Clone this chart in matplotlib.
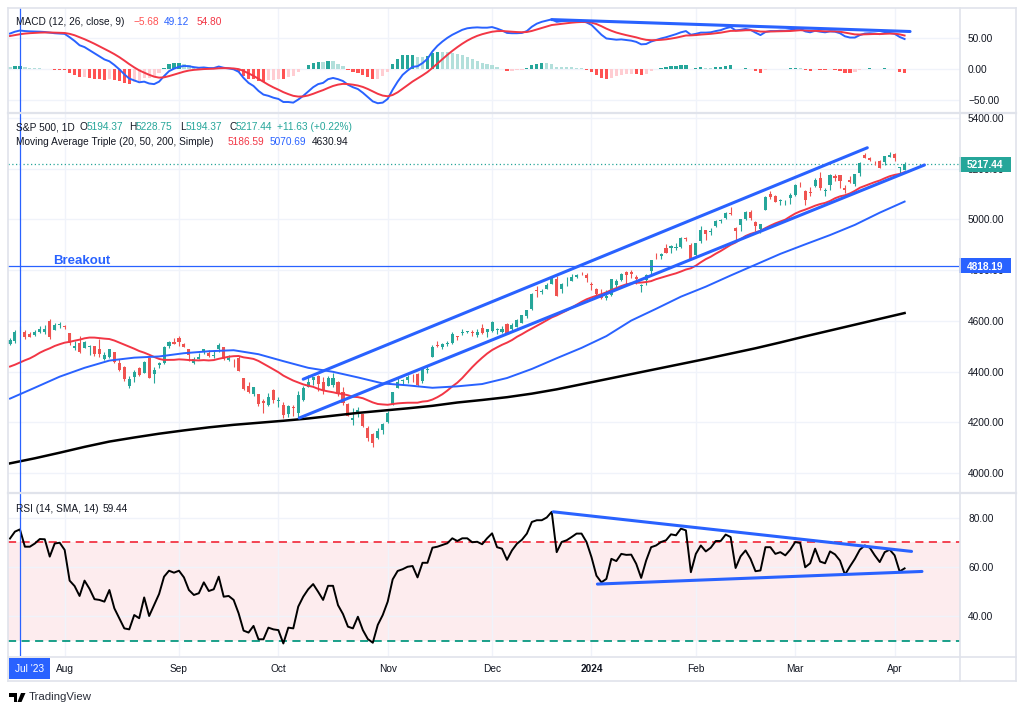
import numpy as np
import pandas as pd
import matplotlib
matplotlib.use("Agg")
import matplotlib.pyplot as plt
from matplotlib.patches import Rectangle, Polygon
from matplotlib.lines import Line2D
from matplotlib.transforms import blended_transform_factory

plt.rcParams['font.family'] = ['Liberation Sans', 'DejaVu Sans']

#-----------------------------------------------------------------------------------------------------------------------
# S&P 500 daily, 17 Jul 2023 - 3 Apr 2024
#-----------------------------------------------------------------------------------------------------------------------
holidays = ['2023-09-04', '2023-11-23', '2023-12-25', '2024-01-01', '2024-01-15', '2024-02-19', '2024-03-29']
dates = pd.bdate_range('2023-07-17', '2024-04-03', freq='C', holidays=holidays)

opens = [
    4508.9, 4521.8, 4563.9, 4554.4, 4550.2, 4543.4, 4555.2, 4558.0, 4598.3, 4565.8,
    4584.8, 4578.8, 4550.9, 4494.3, 4513.9, 4491.6, 4498.0, 4501.6, 4487.2, 4450.7,
    4458.1, 4478.9, 4433.8, 4416.3, 4344.9, 4380.3, 4415.3, 4396.4, 4455.2, 4389.4,
    4426.0, 4432.8, 4500.3, 4517.0, 4530.6, 4510.1, 4490.4, 4434.6, 4451.3, 4481.0,
    4473.3, 4462.7, 4487.8, 4498.0, 4445.1, 4445.4, 4452.8, 4374.4, 4341.7, 4310.6,
    4312.9, 4282.6, 4269.7, 4328.2, 4284.5, 4269.8, 4233.8, 4259.3, 4234.8, 4289.0,
    4339.8, 4366.6, 4380.9, 4360.5, 4342.4, 4345.2, 4357.4, 4321.4, 4273.9, 4210.4,
    4235.8, 4232.4, 4176.0, 4152.9, 4139.4, 4171.3, 4201.3, 4268.3, 4334.2, 4364.3,
    4366.2, 4384.4, 4391.4, 4364.2, 4406.7, 4459.0, 4505.3, 4497.1, 4509.6, 4511.7,
    4538.8, 4553.0, 4555.8, 4554.9, 4545.6, 4571.8, 4554.9, 4559.4, 4564.4, 4557.3,
    4586.2, 4568.8, 4576.2, 4593.4, 4618.3, 4646.2, 4721.0, 4714.2, 4725.6, 4743.7,
    4764.7, 4724.3, 4753.9, 4758.9, 4773.5, 4786.4, 4782.9, 4745.2, 4725.1, 4697.4,
    4690.6, 4703.7, 4741.9, 4759.9, 4792.1, 4791.2, 4772.4, 4739.1, 4760.1, 4796.3,
    4853.4, 4856.8, 4888.6, 4886.7, 4888.9, 4893.0, 4925.9, 4899.2, 4861.1, 4916.1,
    4957.2, 4950.2, 4973.1, 4995.2, 5004.2, 5026.8, 4967.9, 4976.4, 5003.1, 5031.1,
    4989.3, 4963.0, 5038.8, 5100.9, 5093.0, 5074.6, 5067.2, 5085.4, 5098.5, 5130.99,
    5110.5, 5108.0, 5132.4, 5164.5, 5112.0, 5134.3, 5173.5, 5175.1, 5123.3, 5154.8,
    5139.1, 5181.7, 5253.4, 5242.5, 5219.5, 5228.9, 5226.3, 5248.0, 5258.0, 5204.3,
    5194.37]
highs = [
    4532.9, 4562.3, 4578.4, 4564.7, 4555.0, 4563.4, 4580.6, 4582.5, 4607.1, 4590.2,
    4594.2, 4584.6, 4550.9, 4519.5, 4540.3, 4519.8, 4503.3, 4502.4, 4527.4, 4476.2,
    4490.3, 4478.9, 4449.9, 4421.2, 4381.8, 4407.6, 4418.6, 4443.2, 4458.3, 4418.5,
    4439.6, 4500.1, 4521.7, 4532.3, 4541.3, 4514.3, 4490.4, 4457.8, 4473.5, 4490.8,
    4487.1, 4479.4, 4512.0, 4498.0, 4466.4, 4449.9, 4461.0, 4375.7, 4357.4, 4338.5,
    4313.0, 4292.1, 4317.3, 4333.2, 4300.6, 4281.2, 4268.5, 4267.1, 4324.1, 4341.7,
    4385.5, 4378.6, 4385.9, 4377.1, 4383.3, 4393.6, 4364.2, 4339.5, 4276.6, 4255.8,
    4259.4, 4232.4, 4183.6, 4156.7, 4177.5, 4195.6, 4245.6, 4319.7, 4373.6, 4372.2,
    4386.3, 4391.2, 4393.4, 4418.0, 4421.8, 4503.1, 4521.2, 4512.0, 4520.1, 4557.1,
    4542.1, 4568.4, 4560.3, 4562.1, 4568.1, 4587.6, 4569.9, 4599.4, 4572.4, 4578.6,
    4590.7, 4590.9, 4609.2, 4623.7, 4643.9, 4709.7, 4738.6, 4725.5, 4749.5, 4768.7,
    4778.0, 4748.7, 4772.9, 4784.7, 4785.4, 4793.3, 4788.4, 4754.3, 4729.3, 4726.8,
    4721.5, 4764.5, 4765.5, 4790.8, 4798.5, 4802.4, 4782.3, 4744.2, 4785.8, 4842.1,
    4868.4, 4866.5, 4903.7, 4898.2, 4906.7, 4929.3, 4931.1, 4906.8, 4907.0, 4975.3,
    4957.8, 4964.5, 4999.9, 5000.4, 5030.1, 5048.4, 4971.3, 5002.5, 5032.7, 5038.7,
    4993.6, 4983.2, 5094.4, 5111.1, 5097.7, 5080.7, 5077.4, 5105.0, 5140.3, 5149.7,
    5114.5, 5128.0, 5165.6, 5189.3, 5124.7, 5179.9, 5179.1, 5176.9, 5136.9, 5170.3,
    5180.3, 5226.2, 5261.1, 5246.1, 5229.1, 5235.2, 5249.3, 5264.9, 5263.9, 5208.3,
    5228.75]
lows = [
    4504.9, 4514.6, 4557.5, 4527.6, 4535.8, 4541.3, 4552.4, 4547.6, 4528.6, 4564.0,
    4573.1, 4567.5, 4505.8, 4485.5, 4474.6, 4491.2, 4464.4, 4461.3, 4457.9, 4444.0,
    4453.4, 4432.2, 4403.6, 4364.8, 4335.3, 4360.3, 4382.8, 4396.4, 4375.6, 4356.3,
    4415.0, 4431.7, 4493.6, 4507.4, 4501.4, 4496.0, 4442.4, 4430.5, 4448.4, 4467.9,
    4456.8, 4453.4, 4478.7, 4447.2, 4442.1, 4416.6, 4402.2, 4329.2, 4316.5, 4302.7,
    4266.0, 4238.6, 4264.4, 4274.9, 4260.2, 4216.5, 4220.5, 4225.9, 4219.6, 4283.8,
    4339.6, 4345.3, 4325.4, 4312.0, 4342.4, 4337.5, 4303.8, 4269.7, 4223.0, 4189.2,
    4219.4, 4181.4, 4127.9, 4103.8, 4132.9, 4153.1, 4197.7, 4268.3, 4334.2, 4347.5,
    4355.4, 4359.8, 4343.9, 4353.3, 4393.8, 4459.0, 4495.3, 4487.8, 4499.7, 4510.4,
    4525.5, 4545.1, 4552.8, 4540.5, 4537.9, 4547.2, 4537.2, 4554.7, 4546.7, 4551.7,
    4546.5, 4565.2, 4574.1, 4593.4, 4609.7, 4643.2, 4694.6, 4704.7, 4725.6, 4743.7,
    4697.8, 4708.4, 4736.8, 4758.5, 4768.9, 4781.0, 4752.0, 4722.7, 4699.7, 4687.5,
    4682.1, 4699.8, 4730.4, 4756.2, 4739.6, 4769.0, 4747.1, 4714.8, 4740.6, 4785.9,
    4844.1, 4844.4, 4865.9, 4869.3, 4881.5, 4887.4, 4916.3, 4845.2, 4853.5, 4908.0,
    4918.1, 4939.5, 4970.0, 4987.1, 5000.3, 5016.3, 4920.3, 4956.4, 4999.4, 4999.5,
    4955.0, 4946.0, 5038.8, 5081.5, 5068.9, 5057.3, 5058.4, 5061.9, 5094.2, 5127.2,
    5056.8, 5092.2, 5128.2, 5117.5, 5091.1, 5114.5, 5151.9, 5123.3, 5104.4, 5145.5,
    5131.6, 5171.6, 5240.7, 5229.9, 5216.1, 5203.4, 5213.9, 5245.8, 5229.2, 5184.1,
    5194.37]
closes = [
    4522.8, 4555.0, 4565.7, 4534.9, 4536.3, 4554.6, 4567.5, 4566.8, 4537.4, 4582.2,
    4589.0, 4576.7, 4513.4, 4501.9, 4478.0, 4518.4, 4499.4, 4467.7, 4468.8, 4464.1,
    4489.7, 4437.9, 4404.3, 4370.4, 4369.7, 4399.8, 4387.6, 4436.0, 4376.3, 4405.7,
    4433.3, 4497.6, 4514.9, 4507.7, 4515.8, 4496.8, 4465.5, 4451.1, 4457.5, 4487.5,
    4461.9, 4467.4, 4505.1, 4450.3, 4453.5, 4444.0, 4402.2, 4330.0, 4320.1, 4337.4,
    4273.5, 4274.5, 4299.7, 4288.1, 4288.4, 4229.5, 4263.8, 4258.2, 4308.5, 4335.7,
    4358.2, 4376.9, 4349.6, 4327.8, 4373.6, 4373.2, 4314.6, 4278.0, 4224.2, 4217.0,
    4247.7, 4186.8, 4137.2, 4117.4, 4166.8, 4193.8, 4237.9, 4317.8, 4358.3, 4366.0,
    4378.4, 4382.8, 4347.4, 4415.2, 4411.6, 4495.7, 4502.9, 4508.2, 4514.0, 4547.4,
    4538.2, 4556.6, 4559.3, 4550.4, 4554.9, 4550.6, 4567.8, 4594.6, 4569.8, 4567.2,
    4549.3, 4585.6, 4604.4, 4622.4, 4643.7, 4707.1, 4719.6, 4719.2, 4740.6, 4768.4,
    4698.4, 4746.8, 4754.6, 4774.8, 4781.6, 4783.4, 4769.8, 4742.8, 4704.8, 4688.7,
    4697.2, 4763.5, 4756.5, 4783.5, 4780.2, 4783.8, 4766.0, 4739.2, 4780.9, 4839.8,
    4850.4, 4864.6, 4868.6, 4894.2, 4891.0, 4927.9, 4925.0, 4845.7, 4906.2, 4958.6,
    4942.8, 4954.2, 4995.1, 4997.9, 5026.6, 5021.8, 4953.2, 5000.6, 5029.7, 5005.6,
    4975.5, 4981.8, 5087.0, 5088.8, 5069.5, 5078.2, 5069.8, 5096.3, 5137.1, 5130.95,
    5078.7, 5104.8, 5157.4, 5123.7, 5117.9, 5175.3, 5165.3, 5150.5, 5117.1, 5149.4,
    5178.5, 5224.6, 5241.5, 5234.2, 5218.2, 5203.6, 5248.5, 5254.4, 5243.8, 5205.81,
    5217.44]

# Moving Average Triple (20, 50, 200, Simple)
sma20 = [
    4419.9, 4427.2, 4436.0, 4444.5, 4452.2, 4462.5, 4474.4, 4483.8, 4491.8, 4501.1,
    4508.0, 4514.1, 4517.4, 4521.9, 4525.9, 4531.3, 4534.3, 4534.1, 4532.0, 4530.0,
    4528.4, 4522.5, 4514.4, 4506.2, 4497.9, 4490.2, 4481.2, 4474.7, 4466.6, 4457.8,
    4450.0, 4446.0, 4446.1, 4446.4, 4448.3, 4447.2, 4445.5, 4444.7, 4444.1, 4445.3,
    4443.9, 4445.4, 4450.4, 4454.4, 4458.6, 4460.8, 4461.5, 4456.2, 4453.4, 4450.0,
    4442.0, 4430.8, 4420.0, 4409.0, 4397.6, 4384.2, 4374.1, 4364.5, 4357.1, 4349.5,
    4344.3, 4339.8, 4332.0, 4325.9, 4321.9, 4318.4, 4314.0, 4311.4, 4306.6, 4300.6,
    4299.3, 4294.9, 4286.8, 4278.3, 4272.2, 4270.4, 4269.1, 4272.1, 4274.6, 4276.1,
    4277.1, 4277.4, 4277.3, 4281.7, 4283.6, 4289.7, 4299.1, 4310.6, 4325.1, 4341.6,
    4356.1, 4374.6, 4395.7, 4417.4, 4436.8, 4454.6, 4471.1, 4485.0, 4495.6, 4505.7,
    4514.2, 4524.3, 4537.2, 4547.6, 4559.2, 4569.8, 4580.6, 4591.2, 4602.5, 4613.6,
    4621.6, 4631.1, 4640.9, 4652.1, 4663.4, 4675.0, 4685.1, 4692.5, 4699.3, 4705.4,
    4712.8, 4721.7, 4729.3, 4737.4, 4744.2, 4748.0, 4750.3, 4751.3, 4753.3, 4756.9,
    4764.5, 4770.4, 4776.1, 4782.1, 4787.6, 4794.8, 4802.6, 4807.7, 4817.8, 4831.3,
    4843.6, 4853.1, 4865.0, 4875.7, 4888.0, 4899.9, 4909.3, 4922.4, 4934.8, 4943.1,
    4949.4, 4955.3, 4966.2, 4975.9, 4984.8, 4992.3, 4999.5, 5012.0, 5023.5, 5032.1,
    5038.9, 5046.4, 5054.5, 5060.8, 5065.4, 5073.1, 5083.7, 5091.2, 5095.6, 5102.8,
    5113.0, 5125.1, 5132.8, 5140.1, 5147.5, 5153.8, 5162.7, 5170.6, 5175.9, 5179.6,
    5186.59]
ma_bars = list(range(0, 181, 5))
sma50 = [
    4293.4, 4336.4, 4380.0, 4414.9, 4443.5, 4455.0, 4459.7, 4472.5, 4480.3, 4484.3,
    4468.6, 4441.2, 4414.9, 4399.1, 4377.0, 4353.3, 4345.7, 4336.1, 4341.8, 4350.9,
    4374.6, 4410.4, 4452.7, 4493.5, 4540.0, 4601.3, 4647.7, 4695.6, 4735.0, 4779.1,
    4821.7, 4864.4, 4901.9, 4938.6, 4978.8, 5026.9, 5070.69]
sma200 = [
    4038, 4058, 4080, 4103, 4124, 4140, 4155, 4168, 4180, 4190,
    4198, 4206, 4215, 4226, 4237, 4246, 4255, 4265, 4278, 4288,
    4299, 4313, 4330, 4350, 4370, 4390, 4410, 4430, 4450, 4471,
    4492, 4515, 4539, 4562, 4585, 4608, 4630.94]

# MACD (12, 26, close, 9)
macd_line = [
    58, 61, 62.9, 62, 61.5, 61.3, 61, 60.5, 59.5, 58.5,
    58, 57.5, 52, 46, 39, 36, 31, 26, 21, 16,
    13, 7, 0, -8, -15, -18, -21, -20, -23, -24,
    -20, -11, -3, 1, 4, 5.5, 5, 3.5, 2.5, 3,
    2, 2, 4.5, 2.5, 1.5, 0, -4, -14, -22, -27,
    -35, -41, -43, -46, -48, -53, -53, -54, -49, -43,
    -36, -29, -24, -22, -16, -14, -16, -19, -25, -29,
    -32, -38, -45, -52, -55, -54, -48, -33, -20, -9,
    -2, 4, 5, 10, 17, 29, 38, 45, 51, 56,
    60, 64, 66.5, 67.5, 68, 67.5, 67.5, 68.5, 66, 63,
    59, 58.5, 58.5, 59, 62, 69, 74, 77, 79, 81,
    77, 78, 78.5, 79, 79, 78.5, 76, 72, 64, 56,
    50, 49, 48, 48.5, 47.5, 46.5, 44.5, 40.5, 41, 45,
    47.5, 50, 52, 54.5, 57, 60, 62, 56, 57.5, 59.5,
    59.5, 60, 62, 63.5, 66.5, 68.5, 63, 64, 65.5, 64,
    59.5, 55.5, 60.5, 62, 62, 62.5, 62.5, 63.5, 65.5, 66,
    61.5, 60, 62.5, 61, 60, 61.5, 61, 58.5, 53.5, 51.5,
    51.5, 55.5, 58, 58.5, 58, 57, 59, 59, 57.5, 52.5,
    49.12]
macd_signal = [
    54.0, 55.4, 56.9, 57.9, 58.6, 59.1, 59.5, 59.7, 59.7, 59.5,
    59.2, 58.9, 57.5, 55.2, 52.0, 48.8, 45.2, 41.4, 37.3, 33.0,
    29.0, 24.6, 19.7, 14.2, 8.4, 3.1, -1.7, -5.4, -8.9, -11.9,
    -13.5, -13.0, -11.0, -8.6, -6.1, -3.8, -2.0, -0.9, -0.2, 0.4,
    0.7, 1.0, 1.7, 1.9, 1.8, 1.4, 0.3, -2.6, -6.5, -10.6,
    -15.5, -20.6, -25.1, -29.3, -33.0, -37.0, -40.2, -43.0, -44.2, -44.0,
    -42.4, -39.7, -36.6, -33.7, -30.2, -27.0, -24.8, -23.6, -23.9, -24.9,
    -26.3, -28.6, -31.9, -35.9, -39.7, -42.6, -43.7, -41.6, -37.3, -31.6,
    -25.7, -19.8, -14.8, -9.8, -4.4, 2.3, 9.4, 16.5, 23.4, 29.9,
    35.9, 41.5, 46.5, 50.7, 54.2, 56.9, 59.0, 60.9, 61.9, 62.1,
    61.5, 60.9, 60.4, 60.1, 60.5, 62.2, 64.6, 67.1, 69.5, 71.8,
    72.8, 73.8, 74.7, 75.6, 76.3, 76.7, 76.6, 75.7, 73.4, 69.9,
    65.9, 62.5, 59.6, 57.4, 55.4, 53.6, 51.8, 49.5, 47.8, 47.2,
    47.3, 47.8, 48.6, 49.8, 51.2, 53.0, 54.8, 55.0, 55.5, 56.3,
    56.9, 57.5, 58.4, 59.4, 60.8, 62.3, 62.4, 62.7, 63.3, 63.4,
    62.6, 61.2, 61.1, 61.3, 61.4, 61.6, 61.8, 62.1, 62.8, 63.4,
    63.0, 62.4, 62.4, 62.1, 61.7, 61.7, 61.6, 61.0, 59.5, 57.9,
    56.6, 56.4, 56.7, 57.1, 57.3, 57.2, 57.6, 57.9, 57.8, 56.7,
    54.80]

# RSI (14, SMA, 14)
rsi = [
    71.5, 74.3, 75.2, 68.2, 68.2, 69.5, 71.3, 71.2, 64.2, 69.5,
    69.8, 66.9, 54.5, 52.3, 48.3, 54.5, 51.2, 47.0, 46.7, 46.0,
    50.7, 43.3, 39.3, 35.2, 34.8, 40.6, 39.3, 47.7, 40.2, 44.6,
    49.1, 56.1, 58.5, 57.7, 58.5, 55.8, 50.7, 48.7, 49.4, 53.8,
    50.3, 51.0, 56.1, 48.0, 48.3, 46.7, 41.3, 34.3, 33.5, 36.2,
    30.8, 30.8, 35.5, 34.8, 34.5, 29.1, 35.5, 35.2, 44.0, 48.0,
    51.0, 53.1, 50.0, 46.7, 52.4, 52.4, 44.6, 41.0, 35.9, 35.2,
    39.9, 34.5, 30.9, 29.4, 36.6, 40.6, 46.0, 55.0, 58.4, 59.1,
    60.1, 60.4, 55.8, 61.7, 61.7, 67.8, 68.2, 68.9, 69.6, 71.6,
    70.5, 71.6, 71.6, 70.0, 70.2, 69.2, 71.6, 73.6, 68.0, 67.4,
    62.9, 66.7, 69.4, 71.0, 73.5, 78.2, 78.9, 78.9, 80.0, 82.3,
    66.0, 70.1, 70.8, 72.1, 73.5, 73.5, 70.1, 64.0, 56.5, 53.8,
    55.2, 63.3, 62.4, 65.3, 64.9, 65.0, 61.3, 55.6, 62.6, 68.0,
    68.7, 70.1, 70.8, 73.2, 72.8, 75.5, 74.8, 57.9, 65.3, 68.7,
    66.3, 67.8, 70.5, 70.5, 73.1, 72.1, 59.6, 64.3, 66.7, 63.3,
    58.3, 58.6, 68.0, 68.0, 65.3, 66.0, 64.7, 67.0, 70.1, 69.7,
    59.9, 61.5, 67.4, 62.2, 61.5, 66.3, 65.1, 62.6, 56.9, 60.2,
    63.3, 67.0, 68.7, 67.8, 64.7, 62.0, 66.0, 67.0, 64.7, 58.2,
    59.44]

# drawings on the chart (bar number, value)
marker_bar = 2
breakout_level = 4818.19
channel_upper_bars, channel_upper_px = [59.0, 172.5], [4370, 5283]
channel_lower_bars, channel_lower_px = [58.2, 184.0], [4217, 5215]
macd_trend_bars, macd_trend_vals = [109.0, 181.1], [80.6, 61.3]
rsi_top_bars, rsi_top_vals = [109.3, 181.4], [82.3, 66.3]
rsi_bot_bars, rsi_bot_vals = [118.2, 183.5], [53.1, 58.2]

month_labels = ['Aug', 'Sep', 'Oct', 'Nov', 'Dec', '2024', 'Feb', 'Mar', 'Apr']

n = len(closes)
for arr in (opens, highs, lows, sma20, macd_line, macd_signal, rsi):
    assert len(arr) == n, len(arr)
assert len(dates) == n and len(sma50) == len(ma_bars) == len(sma200)

#-----------------------------------------------------------------------------------------------------------------------
W, H = 1024, 713
UP, DOWN = '#26a69a', '#ef5350'
BLUE, RED, TXT = '#2962ff', '#f23645', '#131722'
GRID, BORDER = '#f0f3fa', '#e0e3eb'
FS = 7.3
LFS = 7.3

x = np.arange(n)
fig = plt.figure(figsize=(W / 100, H / 100), dpi=100)


def box(x0, y0, x1, y1):
    return [x0 / W, 1 - y1 / H, (x1 - x0) / W, (y1 - y0) / H]


ax_macd = fig.add_axes(box(8, 8, 960, 112))
ax_price = fig.add_axes(box(8, 113, 960, 492))
ax_rsi = fig.add_axes(box(8, 493, 960, 656))

month_pos = [i for i in range(1, n) if dates[i].month != dates[i - 1].month]

for ax in (ax_macd, ax_price, ax_rsi):
    ax.set_xlim(-0.4, 191.15)
    for s in ax.spines.values():
        s.set_visible(False)
    ax.set_xticks([])
    ax.yaxis.tick_right()
    ax.tick_params(axis='y', length=0, pad=5.8, labelsize=FS, labelcolor=TXT)
    ax.set_axisbelow(True)
    ax.grid(axis='y', color=GRID, lw=1)
    for m in month_pos:
        ax.axvline(m, color=GRID, lw=1, zorder=0.8)
    ax.axvline(marker_bar, color=BLUE, lw=0.9, zorder=6)

# MACD panel
hist = np.array(macd_line) - np.array(macd_signal)
hist_cols = []
for i, hv in enumerate(hist):
    prev = hist[i - 1] if i else hv
    if hv >= 0:
        hist_cols.append('#26a69a' if hv > prev else '#b2dfdb')
    else:
        hist_cols.append('#ffcdd2' if hv > prev else '#ff5252')
ax_macd.bar(x, hist, width=0.65, color=hist_cols, zorder=2)
ax_macd.plot(x, macd_line, color=BLUE, lw=1.4, zorder=3)
ax_macd.plot(x, macd_signal, color=RED, lw=1.4, zorder=3)
ax_macd.plot(macd_trend_bars, macd_trend_vals, color=BLUE, lw=2.2, solid_capstyle='round', zorder=5)
ax_macd.set_ylim(-69.2, 99.4)
ax_macd.set_yticks([-50, 0, 50])
ax_macd.set_yticklabels(['\u221250.00', '0.00', '50.00'])

# price panel
o, hi, lo, c = map(np.array, (opens, highs, lows, closes))
cols = np.where(c >= o, UP, DOWN)
ax_price.vlines(x, lo, hi, color=cols, lw=0.8, zorder=2)
ax_price.bar(x, np.maximum(np.abs(c - o), 1.2), bottom=np.minimum(o, c), width=0.62, color=cols, zorder=2)
ax_price.plot(x, sma20, color=RED, lw=1.4, zorder=3)
ax_price.plot(ma_bars, sma50, color=BLUE, lw=1.4, zorder=3)
ax_price.plot(ma_bars, sma200, color='black', lw=1.8, zorder=3)
ax_price.axhline(breakout_level, color=BLUE, lw=0.9, zorder=3)
ax_price.axhline(closes[-1], color=UP, lw=0.9, ls=(0, (1, 2)), zorder=1)
ax_price.plot(channel_upper_bars, channel_upper_px, color=BLUE, lw=2.2, solid_capstyle='round', zorder=5)
ax_price.plot(channel_lower_bars, channel_lower_px, color=BLUE, lw=2.2, solid_capstyle='round', zorder=5)
ax_price.text(8.65, breakout_level + 20, 'Breakout', color=BLUE, fontsize=9.5, fontweight='bold',
              ha='left', va='center', zorder=5)
ax_price.set_ylim(3925.0, 5420.1)
ax_price.set_yticks(range(4000, 5401, 200))
ax_price.set_yticklabels([f'{v:.2f}' for v in range(4000, 5401, 200)])
ax_price.set_autoscale_on(False)


def price_tag(ax, value, label, color):
    tr = blended_transform_factory(fig.transFigure, ax.transData)
    y0, y1 = ax.get_ylim()
    per_px = (y1 - y0) / (ax.get_position().height * H)
    hh = 15 * per_px
    ax.add_patch(Rectangle((959 / W, value - hh / 2), 52 / W, hh, transform=tr, facecolor=color,
                           edgecolor='none', clip_on=False, zorder=7))
    ax.text(985 / W, value, label, transform=tr, ha='center', va='center_baseline', color='white',
            fontsize=FS, fontweight='bold', clip_on=False, zorder=8)


price_tag(ax_price, closes[-1], f'{closes[-1]:.2f}', UP)
price_tag(ax_price, breakout_level, f'{breakout_level:.2f}', BLUE)

# RSI panel
ax_rsi.axhspan(30, 70, color=RED, alpha=0.09, lw=0, zorder=0.1)
ax_rsi.axhline(70, color=RED, lw=1.3, dashes=(4.5, 3), zorder=1)
ax_rsi.axhline(30, color='#089981', lw=1.3, dashes=(4.5, 3), zorder=1)
ax_rsi.plot(x, rsi, color='black', lw=1.4, zorder=3)
ax_rsi.plot(rsi_top_bars, rsi_top_vals, color=BLUE, lw=2.2, solid_capstyle='round', zorder=5)
ax_rsi.plot(rsi_bot_bars, rsi_bot_vals, color=BLUE, lw=2.2, solid_capstyle='round', zorder=5)
ax_rsi.set_ylim(24.04, 89.9)
ax_rsi.set_yticks([40, 60, 80])
ax_rsi.set_yticklabels(['40.00', '60.00', '80.00'])

# time axis
tr = blended_transform_factory(ax_rsi.transData, fig.transFigure)
for pos, lab in zip(month_pos, month_labels):
    ax_rsi.text(pos, 1 - 669.5 / H, lab, transform=tr, ha='center', va='center', fontsize=FS, color=TXT,
                fontweight='bold' if lab == '2024' else 'normal', clip_on=False)
fig.add_artist(Rectangle((9 / W, 1 - 679 / H), 41 / W, 21 / H, transform=fig.transFigure,
                         facecolor=BLUE, edgecolor='none', zorder=7))
fig.text(29.5 / W, 1 - 669 / H, "Jul '23", ha='center', va='center', fontsize=FS, color='white', zorder=8)


# frame
def hline(y, x0=8, x1=1016, lw=1.2):
    fig.add_artist(Line2D([x0 / W, x1 / W], [1 - y / H, 1 - y / H], transform=fig.transFigure, color=BORDER, lw=lw))


def vline(xp, y0=7.5, y1=681, lw=1.2):
    fig.add_artist(Line2D([xp / W, xp / W], [1 - y0 / H, 1 - y1 / H], transform=fig.transFigure, color=BORDER, lw=lw))


hline(7.5)
hline(112.5, lw=1.6)
hline(492.5, lw=1.6)
hline(656.5)
hline(681)
vline(8)
vline(960)
vline(1016)


# legends
def seg(xp, yp, s, color=TXT, **kw):
    fig.text(xp / W, 1 - yp / H, s, ha='left', va='center', fontsize=LFS, color=color, **kw)


seg(16, 22, 'MACD (12, 26, close, 9)')
seg(133, 22, f'\u2212{abs(hist[-1]):.2f}', '#ff5252')
seg(164, 22, f'{macd_line[-1]:.2f}', BLUE)
seg(197, 22, f'{macd_signal[-1]:.2f}', RED)

chg = closes[-1] - closes[-2]
seg(16, 127, 'S&P 500, 1D')
seg(80, 127, 'O')
seg(87, 127, f'{opens[-1]:.2f}', UP)
seg(129, 127, 'H')
seg(136, 127, f'{highs[-1]:.2f}', UP)
seg(180, 127, 'L')
seg(186, 127, f'{lows[-1]:.2f}', UP)
seg(229, 127, 'C')
seg(236, 127, f'{closes[-1]:.2f}', UP)
seg(277, 127, f'+{chg:.2f} (+{chg / closes[-2] * 100:.2f}%)', UP)

seg(16, 142, 'Moving Average Triple (20, 50, 200, Simple)')
seg(228, 142, f'{sma20[-1]:.2f}', RED)
seg(270, 142, f'{sma50[-1]:.2f}', BLUE)
seg(312, 142, f'{sma200[-1]:.2f}', TXT)

seg(16, 509, 'RSI (14, SMA, 14)')
seg(103, 509, f'{rsi[-1]:.2f}')


# TradingView mark
def P(xp, yp):
    return (xp / W, 1 - yp / H)


fig.add_artist(Polygon([P(9, 693), P(17, 693), P(17, 702), P(13.5, 702), P(13.5, 696.5), P(9, 696.5)],
                       closed=True, transform=fig.transFigure, facecolor='black', edgecolor='none'))
fig.add_artist(Polygon([P(21, 693), P(25.5, 693), P(21.5, 702), P(17.5, 702)],
                       closed=True, transform=fig.transFigure, facecolor='black', edgecolor='none'))
fig.text(29 / W, 1 - 697.5 / H, 'TradingView', ha='left', va='center', fontsize=8.2, color='#2a2e39')

fig.savefig('out.png', dpi=100)
